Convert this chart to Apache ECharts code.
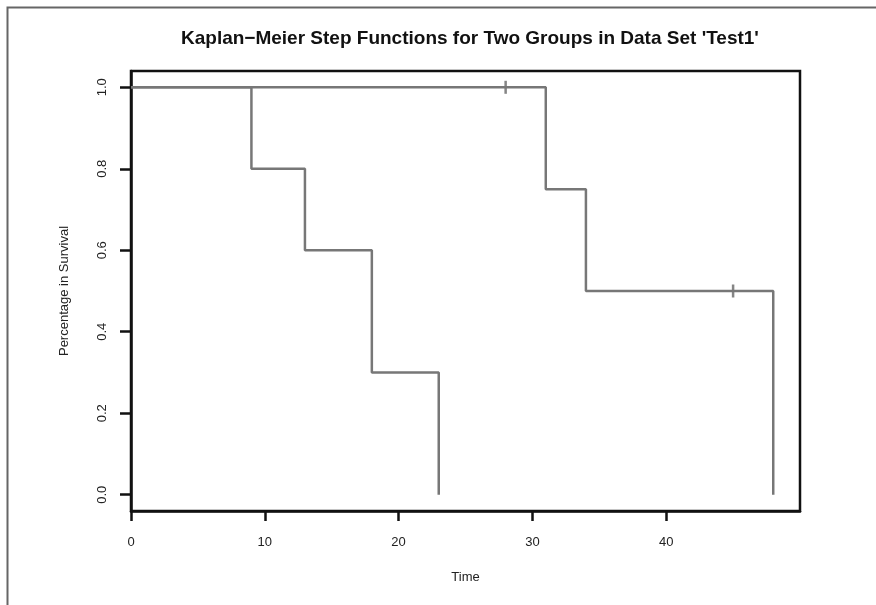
<!DOCTYPE html>
<html><head><meta charset="utf-8">
<script src="https://cdn.jsdelivr.net/npm/echarts@6/dist/echarts.min.js"></script>
<style>html,body{margin:0;padding:0;background:#fff}#c{width:876px;height:605px}</style>
</head><body><div id="c"></div>
<script>
const titleText = "Kaplan\u2212Meier Step Functions for Two Groups in Data Set 'Test1'";
const xTicks = [0, 10, 20, 30, 40];
const yTicks = [0, 0.2, 0.4, 0.6, 0.8, 1.0];
const group1Time = [0, 9, 13, 18, 23];
const group1Surv = [1.0, 0.8, 0.6, 0.3, 0.0];
const group2Time = [0, 31, 34, 48];
const group2Surv = [1.0, 0.75, 0.5, 0.0];
const censorTime = [28, 45];
const censorSurv = [1.0, 0.5];

const pair = (xs, ys) => xs.map((x, i) => [x, ys[i]]);
const font = 'Liberation Sans, Arial, sans-serif';
const chart = echarts.init(document.getElementById('c'));
chart.setOption({
  backgroundColor: '#fff',
  animation: false,
  title: {
    text: titleText, left: 176, top: 24,
    textStyle: { fontFamily: font, fontSize: 19, fontWeight: 'bold', color: '#111' }
  },
  graphic: [{
    type: 'rect', shape: { x: 7.5, y: 7.5, width: 1000, height: 1000 },
    style: { fill: 'none', stroke: '#666', lineWidth: 2 }
  }],
  grid: { left: 131, right: 76, top: 71, bottom: 94, show: true, borderColor: '#111', borderWidth: 2.5, backgroundColor: 'transparent' },
  xAxis: {
    type: 'value', min: 0, max: 50,
    name: 'Time', nameLocation: 'middle', nameGap: 60,
    nameTextStyle: { fontFamily: font, fontSize: 13, color: '#222' },
    axisLine: { show: true, onZero: false, lineStyle: { color: '#111', width: 2.5 } },
    axisTick: { show: true, length: 10, lineStyle: { color: '#111', width: 2.5 }, customValues: xTicks },
    axisLabel: { margin: 25, fontFamily: font, fontSize: 13, color: '#222', customValues: xTicks },
    splitLine: { show: false }
  },
  yAxis: {
    type: 'value', min: -0.04, max: 1.04,
    name: 'Percentage in Survival', nameLocation: 'middle', nameGap: 60,
    nameTextStyle: { fontFamily: font, fontSize: 13, color: '#222' },
    axisLine: { show: true, onZero: false, lineStyle: { color: '#111', width: 2.5 } },
    axisTick: { show: true, length: 11, lineStyle: { color: '#111', width: 2.5 }, customValues: yTicks },
    axisLabel: { margin: 22, rotate: 90, fontFamily: font, fontSize: 13, color: '#222', customValues: yTicks,
      formatter: v => v.toFixed(1) },
    splitLine: { show: false }
  },
  series: [
    { type: 'line', step: 'end', data: pair(group1Time, group1Surv), showSymbol: false, symbol: 'none',
      lineStyle: { color: '#777', width: 2.5 } },
    { type: 'line', step: 'end', data: pair(group2Time, group2Surv), showSymbol: false, symbol: 'none',
      lineStyle: { color: '#777', width: 2.5 } },
    { type: 'scatter', data: pair(censorTime, censorSurv), symbol: 'rect', symbolSize: [2.5, 13],
      itemStyle: { color: '#666' } }
  ]
});
</script></body></html>
